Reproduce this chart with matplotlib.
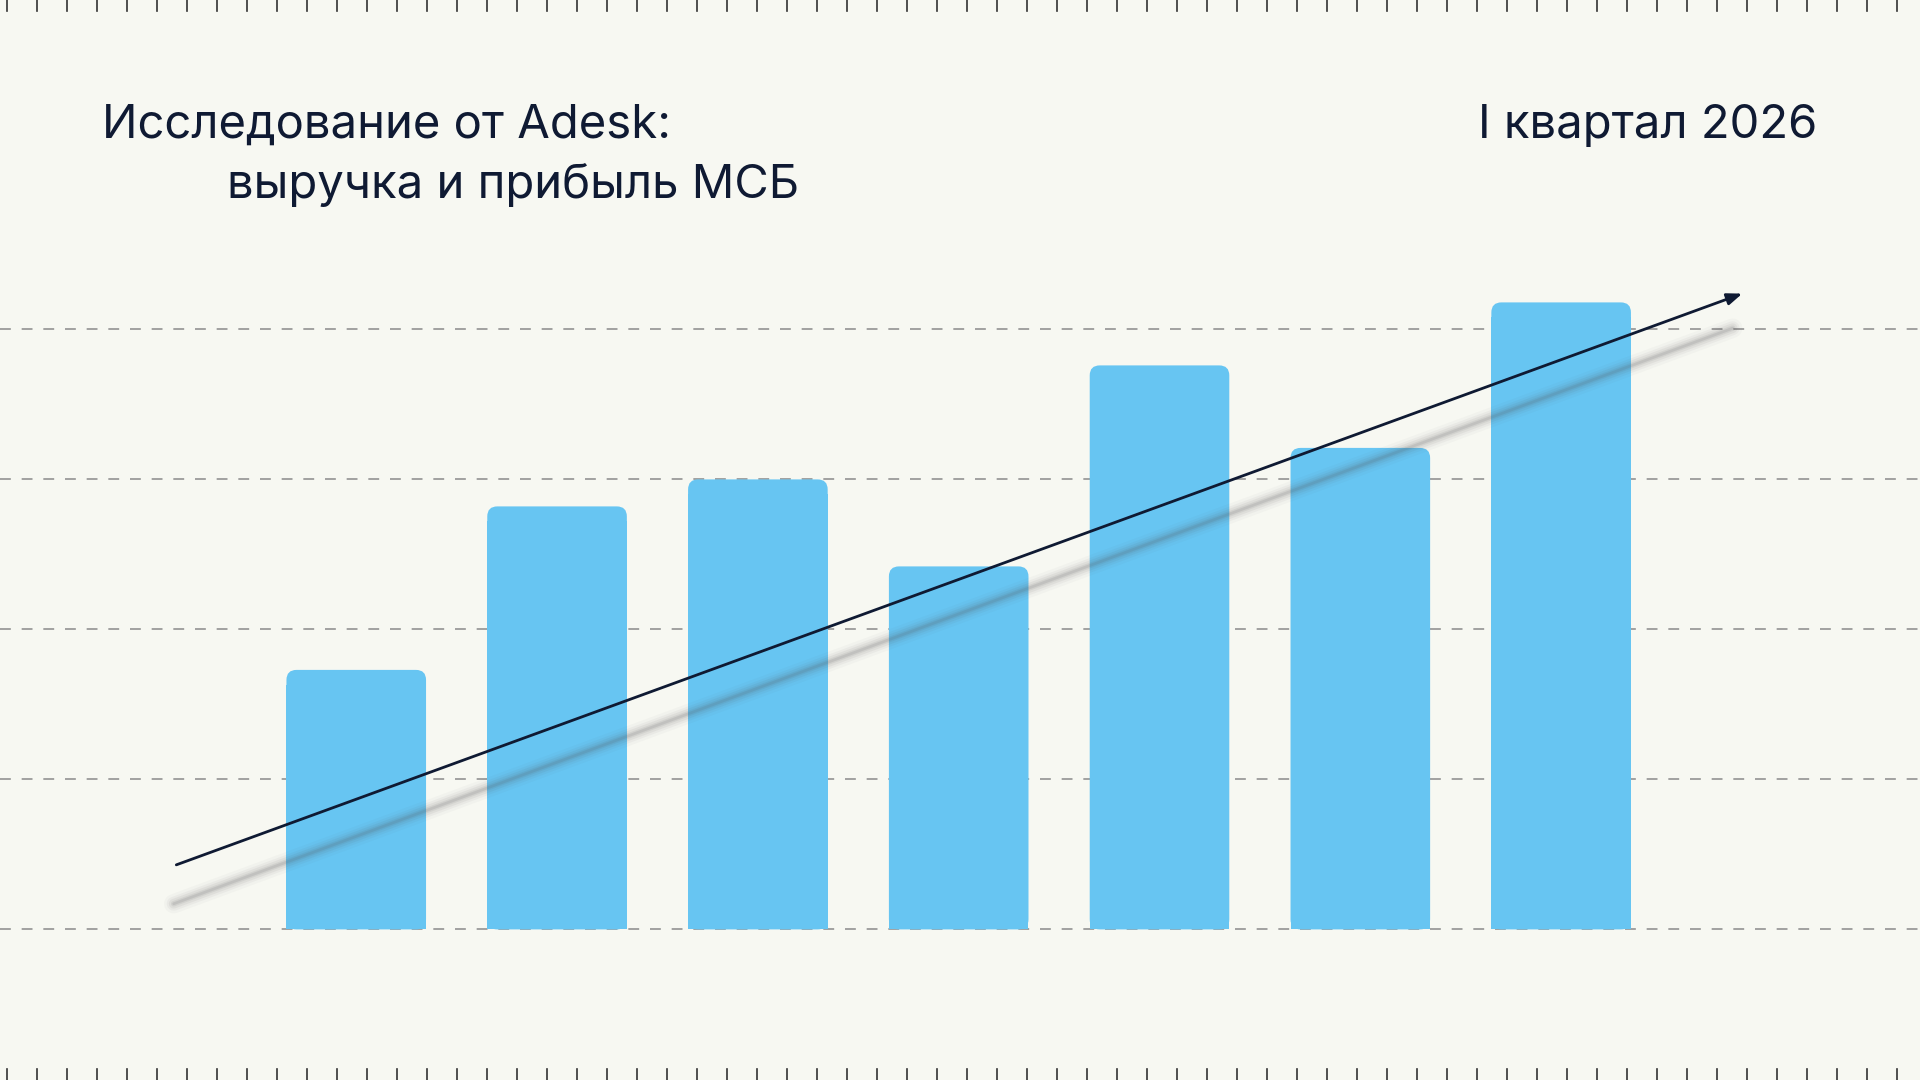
import matplotlib
matplotlib.use("Agg")
import matplotlib.pyplot as plt
from matplotlib.patches import FancyBboxPatch, Rectangle

values = [1.73, 2.82, 3.0, 2.42, 3.76, 3.21, 4.18]
grid_levels = [0, 1, 2, 3, 4]
title_line1 = "Исследование от Adesk:"
title_line2 = "выручка и прибыль МСБ"
period = "I квартал 2026"

BG = "#F7F8F2"
BAR = "#67C5F2"
INK = "#0F1A33"

fig = plt.figure(figsize=(19.2, 10.8), dpi=100, facecolor=BG)
ax = fig.add_axes([0, 0, 1, 1])
ax.set_facecolor(BG)
ax.set_xlim(-1.774, 7.787)
ax.set_ylim(-1.004, 6.196)
ax.axis("off")

for g in grid_levels:
    ax.axhline(g, color="#9a9a9a", lw=1.3, ls=(0, (6, 6)), zorder=1)

w = 114 / 164
asp = (1 / 122.5) / (1 / 164)
for i, v in enumerate(values):
    ax.add_patch(Rectangle((i - w / 2, 0), w, v - 0.1, color=BAR, lw=0, zorder=2))
    ax.add_patch(FancyBboxPatch((i - w / 2, 0), w, v,
                                boxstyle="round,pad=0,rounding_size=0.05",
                                mutation_aspect=asp, color=BAR, lw=0, zorder=2))

# blurred shadow line
sx, sy = [-0.909, 6.854], [0.171, 4.008]
for lw, a in [(14, 0.03), (10, 0.05), (7, 0.07), (4, 0.09), (2, 0.12)]:
    ax.plot(sx, sy, color="#555555", lw=lw, alpha=a, solid_capstyle="round", zorder=3)

ax.annotate("", xy=(6.915, 4.245), xytext=(-0.909, 0.424),
            arrowprops=dict(arrowstyle="-|>,head_length=0.9,head_width=0.35",
                            color=INK, lw=2), zorder=4)

# edge ticks
n = 64
for k in range(n):
    x = (6 + k * 24.5) / 1568
    ax.plot([x, x], [1, 1 - 9 / 882], color="#333333", lw=1.2, transform=ax.transAxes)
    ax.plot([x, x], [0, 9 / 882], color="#333333", lw=1.2, transform=ax.transAxes)

fam = ["Inter", "DejaVu Sans"]
fig.text(83 / 1568, 1 - 103 / 882, title_line1, fontsize=34, color=INK, family=fam,
         va="center", ha="left")
fig.text(185 / 1568, 1 - 152 / 882, title_line2, fontsize=34, color=INK, family=fam,
         va="center", ha="left")
fig.text(1484 / 1568, 1 - 103 / 882, period, fontsize=34, color=INK, family=fam,
         va="center", ha="right")

fig.savefig("out.png", dpi=100, facecolor=BG)
